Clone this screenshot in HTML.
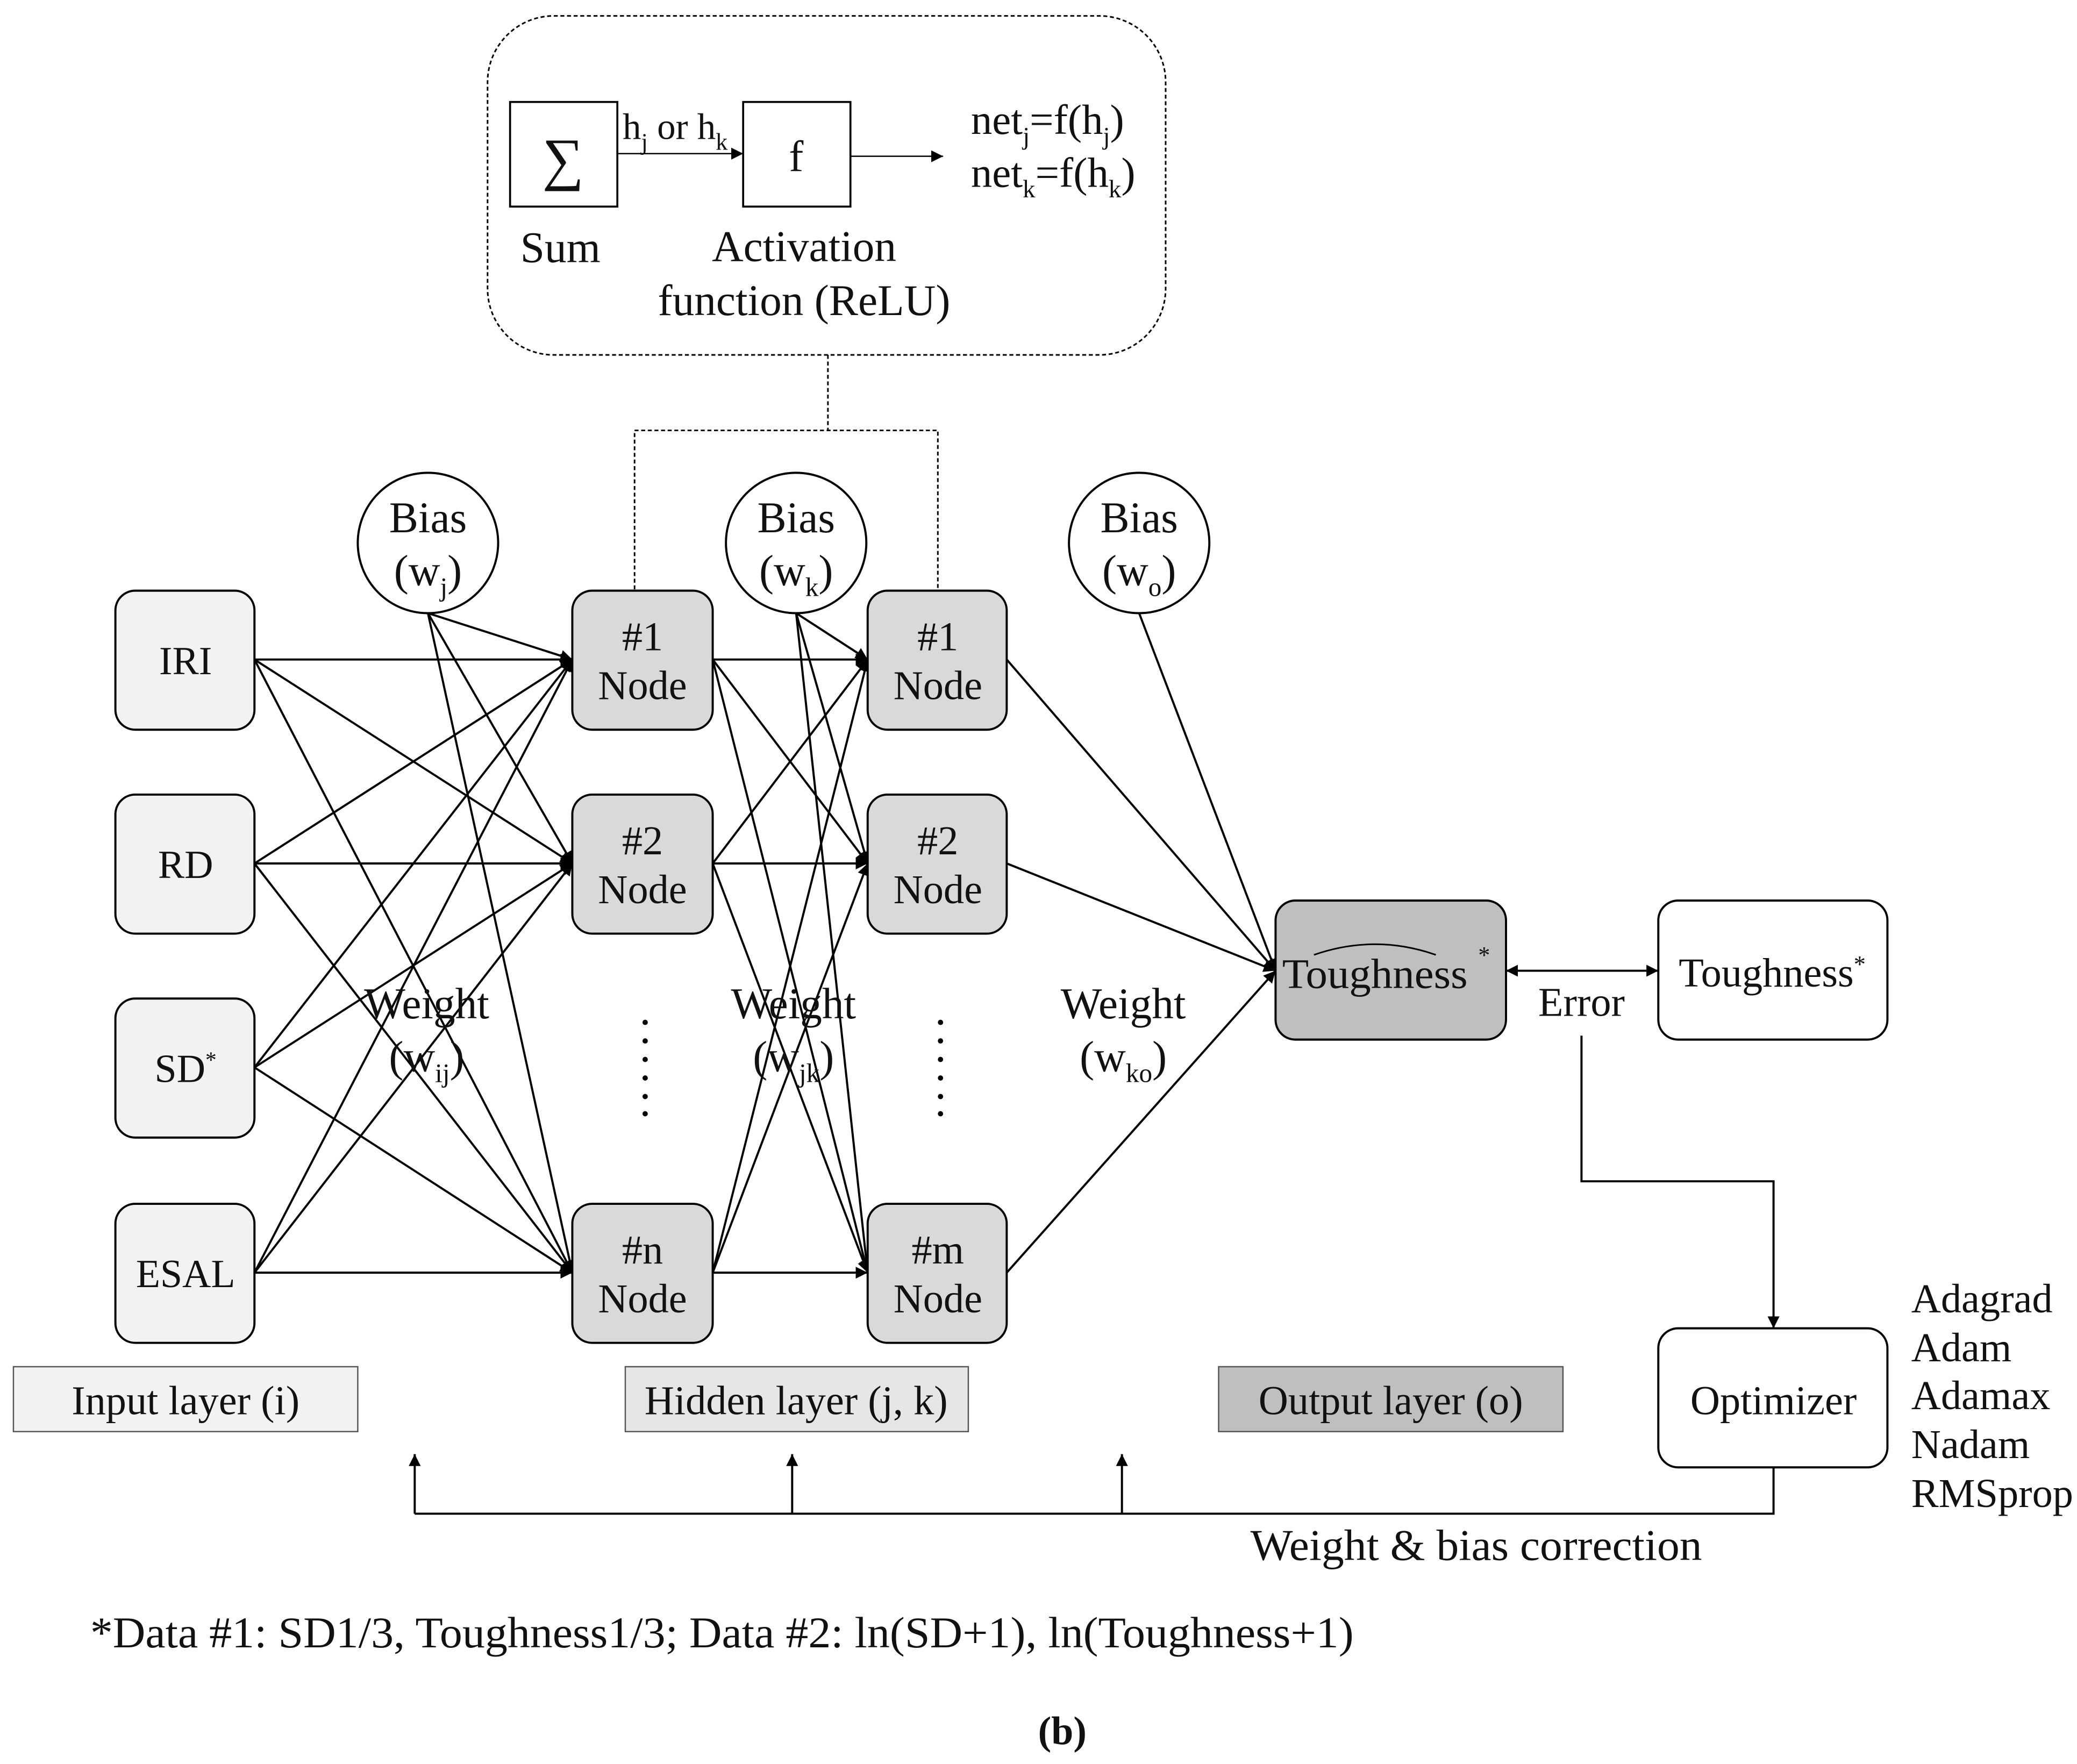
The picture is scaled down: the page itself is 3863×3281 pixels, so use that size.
<!DOCTYPE html>
<html><head><meta charset="utf-8"><style>
html,body{margin:0;padding:0;background:#fff}
svg{display:block}
text{font-family:"Liberation Serif",serif;fill:#111}
</style></head><body>
<svg width="3863" height="3281" viewBox="0 0 1568 1332" xmlns="http://www.w3.org/2000/svg">
<defs>
<marker id="a" viewBox="0 0 10 10" refX="10" refY="5" markerWidth="9" markerHeight="9" markerUnits="userSpaceOnUse" orient="auto"><path d="M0,0L10,5L0,10z" fill="#000"/></marker>
<marker id="s" viewBox="0 0 10 10" refX="0" refY="5" markerWidth="9" markerHeight="9" markerUnits="userSpaceOnUse" orient="auto"><path d="M10,0L0,5L10,10z" fill="#000"/></marker>
</defs>
<rect width="1568" height="1332" fill="#fff"/>
<rect x="368" y="12" width="512" height="256" rx="50" fill="none" stroke="#000" stroke-width="1.2" stroke-dasharray="3,2"/>
<rect x="385" y="77" width="81" height="79" fill="#fff" stroke="#000" stroke-width="1.5"/>
<text x="425" y="135" font-size="44" text-anchor="middle">∑</text>
<rect x="561" y="77" width="81" height="79" fill="#fff" stroke="#000" stroke-width="1.5"/>
<text x="601" y="129" font-size="33" text-anchor="middle">f</text>
<line x1="466" y1="116" x2="561" y2="116" stroke="#000" stroke-width="1" marker-end="url(#a)"/>
<text x="470" y="105" font-size="28">h<tspan font-size="18" dy="8">j</tspan><tspan dy="-8"> or h</tspan><tspan font-size="18" dy="8">k</tspan></text>
<line x1="642" y1="118" x2="712" y2="118" stroke="#000" stroke-width="1" marker-end="url(#a)"/>
<text x="733" y="101" font-size="32">net<tspan font-size="19" dy="8">j</tspan><tspan dy="-8">=f(h</tspan><tspan font-size="19" dy="8">j</tspan><tspan dy="-8">)</tspan></text>
<text x="733" y="141" font-size="32">net<tspan font-size="19" dy="8">k</tspan><tspan dy="-8">=f(h</tspan><tspan font-size="19" dy="8">k</tspan><tspan dy="-8">)</tspan></text>
<text x="423" y="198" font-size="33" text-anchor="middle">Sum</text>
<text x="607" y="197" font-size="33" text-anchor="middle">Activation</text>
<text x="607" y="238" font-size="33" text-anchor="middle">function (ReLU)</text>
<path d="M625,268V325M479,445V325H708V445" fill="none" stroke="#000" stroke-width="1.2" stroke-dasharray="3,2"/>
<g stroke="#000" stroke-width="1.6" fill="none">
<line x1="192" y1="498" x2="432" y2="498" marker-end="url(#a)"/>
<line x1="192" y1="498" x2="432" y2="652" marker-end="url(#a)"/>
<line x1="192" y1="498" x2="432" y2="961" marker-end="url(#a)"/>
<line x1="192" y1="652" x2="432" y2="498" marker-end="url(#a)"/>
<line x1="192" y1="652" x2="432" y2="652" marker-end="url(#a)"/>
<line x1="192" y1="652" x2="432" y2="961" marker-end="url(#a)"/>
<line x1="192" y1="806" x2="432" y2="498" marker-end="url(#a)"/>
<line x1="192" y1="806" x2="432" y2="652" marker-end="url(#a)"/>
<line x1="192" y1="806" x2="432" y2="961" marker-end="url(#a)"/>
<line x1="192" y1="961" x2="432" y2="498" marker-end="url(#a)"/>
<line x1="192" y1="961" x2="432" y2="652" marker-end="url(#a)"/>
<line x1="192" y1="961" x2="432" y2="961" marker-end="url(#a)"/>
<line x1="323" y1="463" x2="432" y2="498" marker-end="url(#a)"/>
<line x1="323" y1="463" x2="432" y2="652" marker-end="url(#a)"/>
<line x1="323" y1="463" x2="432" y2="961" marker-end="url(#a)"/>
<line x1="538" y1="498" x2="655" y2="498" marker-end="url(#a)"/>
<line x1="538" y1="498" x2="655" y2="652" marker-end="url(#a)"/>
<line x1="538" y1="498" x2="655" y2="961" marker-end="url(#a)"/>
<line x1="538" y1="652" x2="655" y2="498" marker-end="url(#a)"/>
<line x1="538" y1="652" x2="655" y2="652" marker-end="url(#a)"/>
<line x1="538" y1="652" x2="655" y2="961" marker-end="url(#a)"/>
<line x1="538" y1="961" x2="655" y2="498" marker-end="url(#a)"/>
<line x1="538" y1="961" x2="655" y2="652" marker-end="url(#a)"/>
<line x1="538" y1="961" x2="655" y2="961" marker-end="url(#a)"/>
<line x1="601" y1="463" x2="655" y2="498" marker-end="url(#a)"/>
<line x1="601" y1="463" x2="655" y2="652" marker-end="url(#a)"/>
<line x1="601" y1="463" x2="655" y2="961" marker-end="url(#a)"/>
<line x1="760" y1="498" x2="963" y2="733" marker-end="url(#a)"/>
<line x1="760" y1="652" x2="963" y2="733" marker-end="url(#a)"/>
<line x1="760" y1="961" x2="963" y2="733" marker-end="url(#a)"/>
<line x1="860" y1="463" x2="963" y2="733" marker-end="url(#a)"/>
<line x1="1137" y1="733" x2="1252" y2="733" marker-start="url(#s)" marker-end="url(#a)"/>
<path d="M1194,782V892H1339V1003" marker-end="url(#a)"/>
<path d="M1339,1108V1143H313"/>
<line x1="313" y1="1143" x2="313" y2="1098" marker-end="url(#a)"/>
<line x1="598" y1="1143" x2="598" y2="1098" marker-end="url(#a)"/>
<line x1="847" y1="1143" x2="847" y2="1098" marker-end="url(#a)"/>
</g>
<g fill="#fff" stroke="#000" stroke-width="1.6">
<circle cx="323" cy="410" r="53"/><circle cx="601" cy="410" r="53"/><circle cx="860" cy="410" r="53"/>
</g>
<g font-size="33" text-anchor="middle">
<text x="323" y="402">Bias</text><text x="323" y="442">(w<tspan font-size="20" dy="8">j</tspan><tspan dy="-8">)</tspan></text>
<text x="601" y="402">Bias</text><text x="601" y="442">(w<tspan font-size="20" dy="8">k</tspan><tspan dy="-8">)</tspan></text>
<text x="860" y="402">Bias</text><text x="860" y="442">(w<tspan font-size="20" dy="8">o</tspan><tspan dy="-8">)</tspan></text>
</g>
<g fill="#f2f2f2" stroke="#000" stroke-width="1.6">
<rect x="87" y="446" width="105" height="105" rx="15"/>
<rect x="87" y="600" width="105" height="105" rx="15"/>
<rect x="87" y="754" width="105" height="105" rx="15"/>
<rect x="87" y="909" width="105" height="105" rx="15"/>
</g>
<g font-size="30" text-anchor="middle">
<text x="140" y="509">IRI</text><text x="140" y="663">RD</text>
<text x="140" y="817">SD<tspan font-size="17" dy="-11">*</tspan></text><text x="140" y="972">ESAL</text>
</g>
<g fill="#d9d9d9" stroke="#000" stroke-width="1.6">
<rect x="432" y="446" width="106" height="105" rx="15"/>
<rect x="432" y="600" width="106" height="105" rx="15"/>
<rect x="432" y="909" width="106" height="105" rx="15"/>
<rect x="655" y="446" width="105" height="105" rx="15"/>
<rect x="655" y="600" width="105" height="105" rx="15"/>
<rect x="655" y="909" width="105" height="105" rx="15"/>
</g>
<g font-size="31" text-anchor="middle">
<text x="485" y="491">#1</text><text x="485" y="528">Node</text>
<text x="485" y="645">#2</text><text x="485" y="682">Node</text>
<text x="485" y="954">#n</text><text x="485" y="991">Node</text>
<text x="708" y="491">#1</text><text x="708" y="528">Node</text>
<text x="708" y="645">#2</text><text x="708" y="682">Node</text>
<text x="708" y="954">#m</text><text x="708" y="991">Node</text>
</g>
<g fill="#000">
<circle cx="487" cy="772" r="2"/><circle cx="487" cy="786" r="2"/><circle cx="487" cy="800" r="2"/><circle cx="487" cy="814" r="2"/><circle cx="487" cy="828" r="2"/><circle cx="487" cy="841" r="2"/>
<circle cx="710" cy="772" r="2"/><circle cx="710" cy="786" r="2"/><circle cx="710" cy="800" r="2"/><circle cx="710" cy="814" r="2"/><circle cx="710" cy="828" r="2"/><circle cx="710" cy="841" r="2"/>
</g>
<g font-size="33" text-anchor="middle">
<text x="322" y="769">Weight</text><text x="322" y="809">(w<tspan font-size="20" dy="8">ij</tspan><tspan dy="-8">)</tspan></text>
<text x="599" y="769">Weight</text><text x="599" y="809">(w<tspan font-size="20" dy="8">jk</tspan><tspan dy="-8">)</tspan></text>
<text x="848" y="769">Weight</text><text x="848" y="809">(w<tspan font-size="20" dy="8">ko</tspan><tspan dy="-8">)</tspan></text>
</g>
<rect x="963" y="680" width="174" height="105" rx="15" fill="#bfbfbf" stroke="#000" stroke-width="1.6"/>
<text x="1038" y="746" font-size="32" text-anchor="middle" textLength="140" lengthAdjust="spacingAndGlyphs">Toughness</text>
<path d="M992,721 Q1038,705 1084,721" fill="none" stroke="#000" stroke-width="1.2"/>
<text x="1116" y="727" font-size="18">*</text>
<rect x="1252" y="680" width="173" height="105" rx="15" fill="#fff" stroke="#000" stroke-width="1.6"/>
<text x="1338" y="745" font-size="31" text-anchor="middle">Toughness<tspan font-size="18" dy="-11">*</tspan></text>
<text x="1194" y="767" font-size="31" text-anchor="middle">Error</text>
<rect x="1252" y="1003" width="173" height="105" rx="15" fill="#fff" stroke="#000" stroke-width="1.6"/>
<text x="1339" y="1068" font-size="31" text-anchor="middle">Optimizer</text>
<g font-size="31">
<text x="1443" y="991">Adagrad</text><text x="1443" y="1028">Adam</text><text x="1443" y="1064">Adamax</text><text x="1443" y="1101">Nadam</text><text x="1443" y="1138">RMSprop</text>
</g>
<text x="944" y="1178" font-size="33" textLength="341" lengthAdjust="spacingAndGlyphs">Weight &amp; bias correction</text>
<rect x="10" y="1032" width="260" height="49" fill="#f2f2f2" stroke="#555" stroke-width="1"/>
<text x="140" y="1068" font-size="31" text-anchor="middle">Input layer (i)</text>
<rect x="472" y="1032" width="259" height="49" fill="#e6e6e6" stroke="#555" stroke-width="1"/>
<text x="601" y="1068" font-size="31" text-anchor="middle">Hidden layer (j, k)</text>
<rect x="920" y="1032" width="260" height="49" fill="#bfbfbf" stroke="#555" stroke-width="1"/>
<text x="1050" y="1068" font-size="31" text-anchor="middle">Output layer (o)</text>
<text x="68" y="1244" font-size="33" textLength="954" lengthAdjust="spacingAndGlyphs">*Data #1: SD1/3, Toughness1/3; Data #2: ln(SD+1), ln(Toughness+1)</text>
<text x="802" y="1317" font-size="30" text-anchor="middle" font-weight="bold">(b)</text>
</svg>
</body></html>
